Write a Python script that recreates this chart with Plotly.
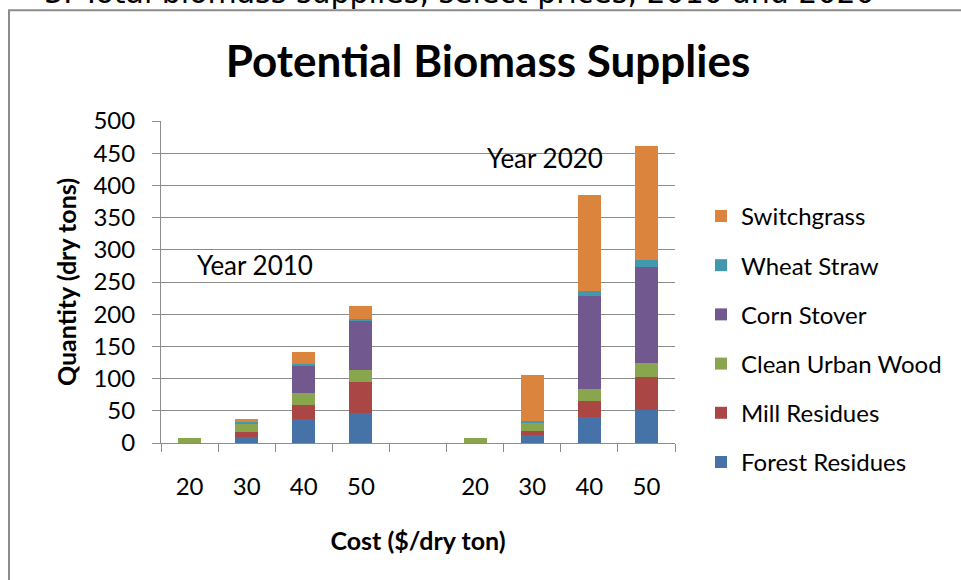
import plotly.graph_objects as go

# ---- data ----
years = ["2010", "2020"]
cost_labels = ["20", "30", "40", "50"]
series_names = ["Forest Residues", "Mill Residues", "Clean Urban Wood",
                "Corn Stover", "Wheat Straw", "Switchgrass"]
# values per cost (20,30,40,50) for 2010 then 2020
forest_2010 = [0, 9, 37, 47]
mill_2010 = [0, 8, 22, 48]
urban_2010 = [7, 13, 18, 18]
corn_2010 = [0, 0, 44, 77]
wheat_2010 = [0, 2, 2, 3]
switch_2010 = [0, 5, 18, 20]

forest_2020 = [0, 12, 40, 52]
mill_2020 = [0, 6, 26, 51]
urban_2020 = [8, 14, 18, 22]
corn_2020 = [0, 0, 145, 149]
wheat_2020 = [0, 2, 7, 10]
switch_2020 = [0, 71, 149, 177]

colors = ["#4572A7", "#AA4643", "#89A54E", "#71588F", "#4198AF", "#DB843D"]

series_2010 = [forest_2010, mill_2010, urban_2010, corn_2010, wheat_2010, switch_2010]
series_2020 = [forest_2020, mill_2020, urban_2020, corn_2020, wheat_2020, switch_2020]

# categories: 4 costs for 2010, one blank slot, 4 costs for 2020
cats = [f"{years[0]}-{c}" for c in cost_labels] + ["gap"] + [f"{years[1]}-{c}" for c in cost_labels]
tick_text = cost_labels + [""] + cost_labels

fig = go.Figure()
n = len(series_names)
for i, (name, col, v10, v20) in enumerate(zip(series_names, colors, series_2010, series_2020)):
    yvals = list(v10) + [None] + list(v20)
    fig.add_trace(go.Bar(
        x=cats, y=yvals, name=name, marker_color=col,
        marker_line_width=0, legendgroup=name, legendrank=n - i,
    ))

# plot area pixels
L, R, T, B = 161, 675, 121, 443.5
W, H = 961, 580
pw, ph = R - L, B - T

def px_x(p):
    return (p - L) / pw

def px_y(p):
    return (B - p) / ph

font_main = "Lato"

fig.update_layout(
    width=W, height=H,
    margin=dict(l=L, r=W - R, t=T, b=H - B, autoexpand=False),
    barmode="stack", bargap=0.6,
    paper_bgcolor="white", plot_bgcolor="white",
    font=dict(family=font_main, color="#000000"),
    title=dict(text="<b>Potential Biomass Supplies</b>", xref="paper", x=px_x(488), xanchor="center",
               y=1 - 62 / H, yanchor="middle", font=dict(size=44, family=font_main, color="#000")),
    legend=dict(x=px_x(701), y=px_y(194), xanchor="left", yanchor="top",
                traceorder="grouped", tracegroupgap=15,
                font=dict(size=24, family=font_main, color="#000"),
                bgcolor="rgba(0,0,0,0)"),
    showlegend=True,
)

fig.update_xaxes(
    type="category", categoryorder="array", categoryarray=cats,
    tickvals=cats, ticktext=tick_text, tickson="boundaries",
    ticks="outside", ticklen=8, tickcolor="#8c8c8c", tickwidth=1,
    showline=True, linecolor="#8c8c8c", linewidth=1, showgrid=False,
    tickfont=dict(size=24, family=font_main, color="#000"),
    ticklabelstandoff=22,
    title=dict(text="<b>Cost ($/dry ton)</b>", standoff=33,
               font=dict(size=25, family=font_main, color="#000")),
    range=[-0.5, 8.5],
)
fig.update_yaxes(
    range=[0, 500], dtick=50, tick0=0,
    ticks="outside", ticklen=8, tickcolor="#8c8c8c", tickwidth=1,
    showline=True, linecolor="#8c8c8c", linewidth=1,
    showgrid=True, gridcolor="#8c8c8c", gridwidth=1,
    tickfont=dict(size=24, family=font_main, color="#000"),
    ticklabelstandoff=12,
    title=dict(text="<b>Quantity (dry tons)</b>", standoff=9,
               font=dict(size=25, family=font_main, color="#000")),
)

# year annotations
fig.add_annotation(x=px_x(255), y=px_y(265), xref="paper", yref="paper",
                   xanchor="center", yanchor="middle",
                   text="Year 2010", showarrow=False,
                   font=dict(size=26, family=font_main, color="#000"))
fig.add_annotation(x=px_x(545), y=px_y(158), xref="paper", yref="paper",
                   xanchor="center", yanchor="middle",
                   text="Year 2020", showarrow=False,
                   font=dict(size=26, family=font_main, color="#000"))

# caption cut at the top of the page
fig.add_annotation(x=px_x(877), y=px_y(-8), xref="paper", yref="paper",
                   xanchor="right", yanchor="middle",
                   text="3. Total biomass supplies, select prices, 2010 and 2020",
                   showarrow=False,
                   font=dict(size=30, family="DejaVu Sans", color="#000"))

# chart frame
fig.add_shape(type="rect", xref="paper", yref="paper",
              x0=px_x(9), x1=px_x(990), y0=px_y(600), y1=px_y(10),
              line=dict(color="#8c8c8c", width=2), fillcolor="rgba(0,0,0,0)", layer="below")

fig.write_html("out.html", config={"displayModeBar": False},
               post_script="document.body.style.margin='0';document.body.style.overflow='hidden';")
